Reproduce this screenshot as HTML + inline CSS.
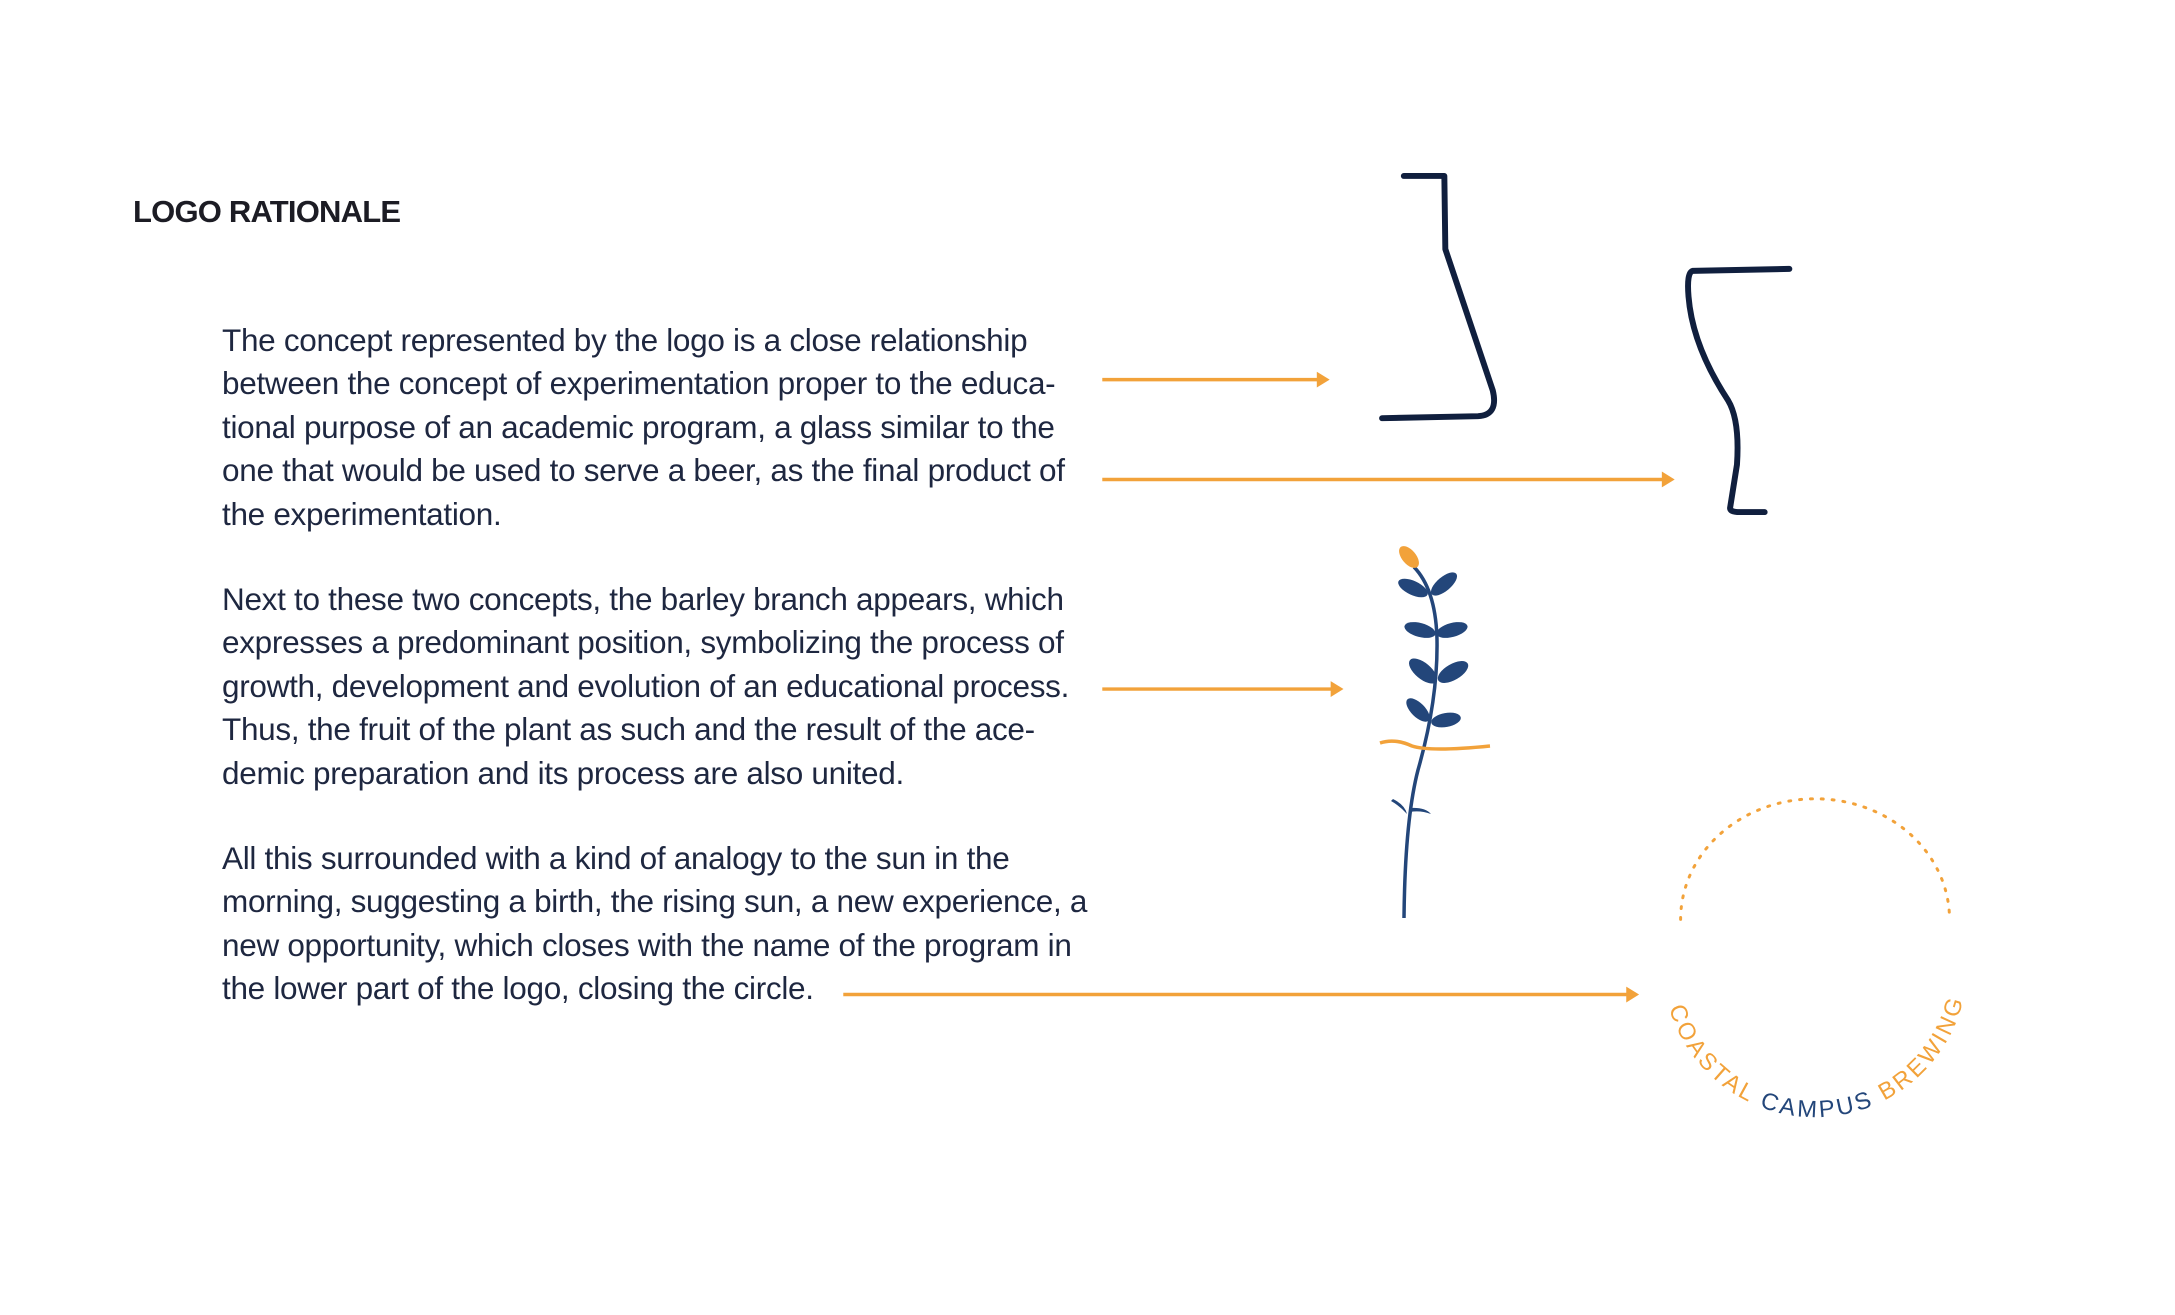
<!DOCTYPE html>
<html><head><meta charset="utf-8"><style>
html,body{margin:0;padding:0;background:#fff;}
body{width:2175px;height:1315px;position:relative;overflow:hidden;font-family:"Liberation Sans",sans-serif;}
h1{position:absolute;left:133px;top:194px;margin:0;font-size:31px;font-weight:bold;color:#1c1c24;letter-spacing:-0.8px;}
.p{position:absolute;left:222px;font-size:31.5px;line-height:43.4px;color:#1e2740;white-space:nowrap;letter-spacing:-0.3px;}
svg{position:absolute;left:0;top:0;}
</style></head><body>
<h1>LOGO RATIONALE</h1>
<div class="p" style="top:319px">The concept represented by the logo is a close relationship<br>between the concept of experimentation proper to the educa-<br>tional purpose of an academic program, a glass similar to the<br>one that would be used to serve a beer, as the final product of<br>the experimentation.</div>
<div class="p" style="top:578px">Next to these two concepts, the barley branch appears, which<br>expresses a predominant position, symbolizing the process of<br>growth, development and evolution of an educational process.<br>Thus, the fruit of the plant as such and the result of the ace-<br>demic preparation and its process are also united.</div>
<div class="p" style="top:837px">All this surrounded with a kind of analogy to the sun in the<br>morning, suggesting a birth, the rising sun, a new experience, a<br>new opportunity, which closes with the name of the program in<br>the lower part of the logo, closing the circle.</div>
<svg width="2175" height="1315" viewBox="0 0 2175 1315">
<g transform="scale(0.9886)">
<g stroke="#f2a23a" stroke-width="3.5" fill="#f2a23a">
<line x1="1115" y1="384" x2="1334" y2="384"/><polygon points="1332,376 1345,384 1332,392" stroke="none"/>
<line x1="1115" y1="485" x2="1683" y2="485"/><polygon points="1681,477 1694,485 1681,493" stroke="none"/>
<line x1="1115" y1="697" x2="1348" y2="697"/><polygon points="1346,689 1359,697 1346,705" stroke="none"/>
<line x1="853" y1="1006" x2="1647" y2="1006"/><polygon points="1645,998 1658,1006 1645,1014" stroke="none"/>
</g>
<g fill="none" stroke="#101f3e" stroke-linecap="round" stroke-linejoin="round">
<path d="M1420,178 L1461,178 L1462,252 L1510,395 Q1516,420 1495,421 L1398,423" stroke-width="6"/>
<path d="M1810,272 L1712,274 Q1706,276 1708,300 Q1712,350 1748,405 Q1760,425 1757,470 L1750,514 Q1750,518 1760,518 L1785,518" stroke-width="6"/>
</g>
<path d="M1700,930 A136,122 0 0 1 1972,930" fill="none" stroke="#f2a23a" stroke-width="3" stroke-dasharray="2 9" stroke-linecap="round"/>
<defs><path id="arc" d="M1682,976 A154,154 0 0 0 1990,976"/></defs>
<text font-family="Liberation Sans,sans-serif" font-size="24" letter-spacing="1"><textPath href="#arc" startOffset="44" textLength="404" lengthAdjust="spacing"><tspan fill="#f2a23a">COASTAL </tspan><tspan fill="#23467a">CAMPUS </tspan><tspan fill="#f2a23a">BREWING</tspan></textPath></text>
</g>
<g fill="#23467a">
<path d="M1404,918 Q1405,820 1418,770 Q1438,700 1437,640 Q1436,590 1414,567" fill="none" stroke="#23467a" stroke-width="3.5"/>
<ellipse cx="1413" cy="588" rx="16" ry="7" transform="rotate(25 1413 588)"/>
<ellipse cx="1444" cy="584" rx="16" ry="7" transform="rotate(-40 1444 584)"/>
<ellipse cx="1420" cy="630" rx="16" ry="7" transform="rotate(15 1420 630)"/>
<ellipse cx="1452" cy="630" rx="16" ry="7" transform="rotate(-15 1452 630)"/>
<ellipse cx="1423" cy="671" rx="17" ry="8" transform="rotate(40 1423 671)"/>
<ellipse cx="1453" cy="672" rx="17" ry="8" transform="rotate(-30 1453 672)"/>
<ellipse cx="1418" cy="710" rx="15" ry="7" transform="rotate(45 1418 710)"/>
<ellipse cx="1446" cy="720" rx="15" ry="7" transform="rotate(-10 1446 720)"/>
<path d="M1393,799 Q1405,805 1407,814 Q1400,806 1391,801Z"/>
<path d="M1410,808 Q1425,807 1431,814 Q1420,810 1410,812Z"/>
</g>
<ellipse cx="1409" cy="557" rx="13" ry="7" fill="#f2a23a" transform="rotate(50 1409 557)"/>
<path d="M1380,743 Q1395,738 1412,746 Q1430,752 1490,746" fill="none" stroke="#f2a23a" stroke-width="3.5"/>
</svg>
</body></html>
